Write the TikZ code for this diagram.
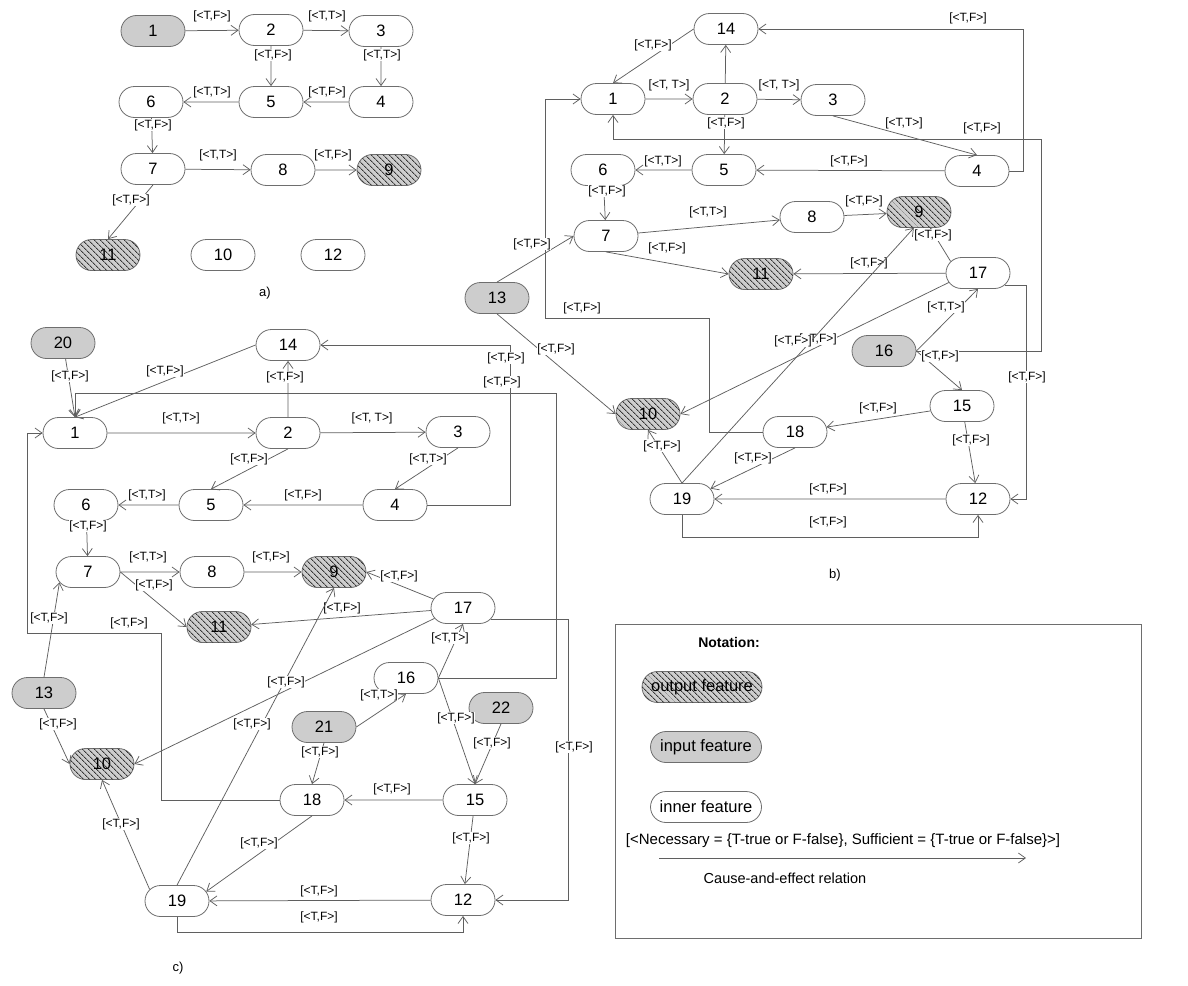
\documentclass[tikz,border=0pt]{standalone}
\usepackage{fontspec}
\setmainfont{Liberation Sans}
\usetikzlibrary{arrows.meta,shapes.misc,patterns.meta}
\definecolor{edge}{RGB}{95,95,95}
\definecolor{rim}{RGB}{110,110,110}
\definecolor{infill}{RGB}{205,205,205}
\definecolor{outfill}{RGB}{205,205,205}
\definecolor{hatch}{RGB}{55,55,55}

\begin{document}
\begin{tikzpicture}[x=1pt,y=-1pt, every node/.style={font=\fontsize{12}{12}\selectfont},
  feat/.style={rounded rectangle,draw=rim,line width=0.8pt,fill=white,minimum width=64pt,minimum height=31pt,inner sep=0pt,font=\fontsize{16.5}{16.5}\selectfont},
  featin/.style={feat,fill=infill},
  featout/.style={feat,fill=outfill,postaction={pattern={Lines[angle=-45,distance=4pt,line width=0.9pt]},pattern color=hatch}},
  lab/.style={fill=white,inner sep=0.6pt},
  cause/.style={-{Straight Barb[length=7pt,width=10pt]},draw=edge,line width=0.75pt}]
  \useasboundingbox (0,0) rectangle (1188,985);

  % a)
  \node[featin] (a1) at (153,31) {1};
  \node[feat] (a2) at (271,30) {2};
  \node[feat] (a3) at (381,31) {3};
  \node[feat] (a6) at (151,102) {6};
  \node[feat] (a5) at (271,102) {5};
  \node[feat] (a4) at (381,102) {4};
  \node[feat] (a7) at (153,169) {7};
  \node[feat] (a8) at (283,170) {8};
  \node[featout] (a9) at (389,170) {9};
  \node[featout] (a11) at (108,255) {11};
  \node[feat] (a10) at (223,255) {10};
  \node[feat] (a12) at (333,255) {12};
  \node[font=\fontsize{13}{13}\selectfont] (capa) at (265,293) {a)};
  \draw[cause] (a1) -- (a2) node[lab] at (212,16) {[<T,F>]};
  \draw[cause] (a2) -- (a3) node[lab] at (327,16) {[<T,T>]};
  \draw[cause] (a2) -- (a5) node[lab] at (273,55) {[<T,F>]};
  \draw[cause] (a3) -- (a4) node[lab] at (382,55) {[<T,T>]};
  \draw[cause] (a4) -- (a5) node[lab] at (327,92) {[<T,F>]};
  \draw[cause] (a5) -- (a6) node[lab] at (212,92) {[<T,T>]};
  \draw[cause] (a6) -- (a7) node[lab] at (153,125) {[<T,F>]};
  \draw[cause] (a7) -- (a8) node[lab] at (218,155) {[<T,T>]};
  \draw[cause] (a8) -- (a9) node[lab] at (333,155) {[<T,F>]};
  \draw[cause] (a7.south) -- (a11.north) node[lab] at (131,200) {[<T,F>]};

  % b)
  \node[feat] (b14) at (726,29) {14};
  \node[feat] (b1) at (613,99) {1};
  \node[feat] (b2) at (725,99) {2};
  \node[feat] (b3) at (833,100) {3};
  \node[feat] (b6) at (603,170) {6};
  \node[feat] (b5) at (724,170) {5};
  \node[feat] (b4) at (977,171) {4};
  \node[feat] (b7) at (606,236) {7};
  \node[feat] (b8) at (812,217) {8};
  \node[featout] (b9) at (919,212) {9};
  \node[featout] (b11) at (761,274) {11};
  \node[feat] (b17) at (978,273) {17};
  \node[featin] (b13) at (497,298) {13};
  \node[featin] (b16) at (884,351) {16};
  \node[featout] (b10) at (648,414) {10};
  \node[feat] (b15) at (962,406) {15};
  \node[feat] (b18) at (795,432) {18};
  \node[feat] (b19) at (682,499) {19};
  \node[feat] (b12) at (978,499) {12};
  \node[font=\fontsize{13}{13}\selectfont] (capb) at (835,575) {b)};
  \draw[cause] (b14.west) -- (b1.north) node[lab] at (653,45) {[<T,F>]};
  \draw[cause] (b2) -- (b14);
  \draw[cause] (b1) -- (b2) node[lab] at (669,85) {[<T, T>]};
  \draw[cause] (b2) -- (b3) node[lab] at (779,85) {[<T, T>]};
  \draw[cause] (b3.south) -- (b4.north) node[lab] at (904,123) {[<T,T>]};
  \draw[cause] (b4) -- (b5) node[lab] at (849,161) {[<T,F>]};
  \draw[cause] (b5) -- (b6) node[lab] at (663,161) {[<T,T>]};
  \draw[cause] (b6) -- (b7) node[lab] at (607,191) {[<T,F>]};
  \draw[cause] (b4.east) -- ++(14,0) |- (b14.east) node[lab] at (968,18) {[<T,F>]};
  \draw[cause] (b16.east) -| (1041,139) -| (b1.south) node[lab] at (982,128) {[<T,F>]};
  \draw[cause] (b2) -- (b5) node[lab] at (726,123) {[<T,F>]};
  \draw[cause] (b18.west) -| (709,318) -| (545,99) -- (b1.west) node[lab] at (582,308) {[<T,F>]};
  \draw[cause] (b13.north) -- (b7.west) node[lab] at (532,244) {[<T,F>]};
  \draw[cause] (b13.south) -- (b10.west) node[lab] at (556,349) {[<T,F>]};
  \draw[cause] (b7) -- (b8) node[lab] at (708,212) {[<T,T>]};
  \draw[cause] (b7.south) -- (b11.west) node[lab] at (667,248) {[<T,F>]};
  \draw[cause] (b8) -- (b9) node[lab] at (864,201) {[<T,F>]};
  \draw[cause] (b17.157) -- (b9.-55) node[lab] at (933,235) {[<T,F>]};
  \draw[cause] (b17) -- (b11) node[lab] at (869,263) {[<T,F>]};
  \draw[cause] (b17.198) -- (b10.east) node[lab] at (818,339) {[<T,F>]};
  \draw[cause] (b19.north) -- (b9.-108) node[lab] at (793,341) {[<T,F>]};
  \draw[cause] (b19.north) -- (b10.south) node[lab] at (662,446) {[<T,F>]};
  \draw[cause] (b16.east) -- (b17.south) node[lab] at (946,307) {[<T,T>]};
  \draw[cause] (b16.east) -- (b15.north) node[lab] at (940,356) {[<T,F>]};
  \draw[cause] (b17.-25) -- ++(22,0) |- (b12.east) node[lab] at (1027,377) {[<T,F>]};
  \draw[cause] (b15) -- (b18) node[lab] at (878,408) {[<T,F>]};
  \draw[cause] (b15) -- (b12) node[lab] at (971,440) {[<T,F>]};
  \draw[cause] (b18.south) -- (b19.20) node[lab] at (753,458) {[<T,F>]};
  \draw[cause] (b12) -- (b19) node[lab] at (828,489) {[<T,F>]};
  \draw[cause] (b19.south) -- ++(0,22) -| (b12.south) node[lab] at (828,522) {[<T,F>]};

  % c)
  \node[featin] (c20) at (63,343) {20};
  \node[feat] (c14) at (288,345) {14};
  \node[feat] (c1) at (75,433) {1};
  \node[feat] (c2) at (288,433) {2};
  \node[feat] (c3) at (458,432) {3};
  \node[feat] (c6) at (86,505) {6};
  \node[feat] (c5) at (211,505) {5};
  \node[feat] (c4) at (395,505) {4};
  \node[feat] (c7) at (88,572) {7};
  \node[feat] (c8) at (212,572) {8};
  \node[featout] (c9) at (334,572) {9};
  \node[featout] (c11) at (219,627) {11};
  \node[feat] (c17) at (463,608) {17};
  \node[feat] (c16) at (406,678) {16};
  \node[featin] (c13) at (44,693) {13};
  \node[featin] (c22) at (501,708) {22};
  \node[featin] (c21) at (324,727) {21};
  \node[featout] (c10) at (102,764) {10};
  \node[feat] (c18) at (312,800) {18};
  \node[feat] (c15) at (475,800) {15};
  \node[feat] (c19) at (177,901) {19};
  \node[feat] (c12) at (463,900) {12};
  \node[font=\fontsize{13}{13}\selectfont] (capc) at (178,968) {c)};
  \draw[cause] (c20) -- (c1.north) node[lab] at (70,376) {[<T,F>]};
  \draw[cause] (c14.west) -- (c1.north) node[lab] at (165,371) {[<T,F>]};
  \draw[cause] (c2) -- (c14) node[lab] at (285,377) {[<T,F>]};
  \draw[cause] (c1) -- (c2) node[lab] at (181,418) {[<T,T>]};
  \draw[cause] (c2) -- (c3) node[lab] at (372,418) {[<T, T>]};
  \draw[cause] (c2.south) -- (c5.north) node[lab] at (249,459) {[<T,F>]};
  \draw[cause] (c3.south) -- (c4.north) node[lab] at (428,459) {[<T,T>]};
  \draw[cause] (c4) -- (c5) node[lab] at (303,495) {[<T,F>]};
  \draw[cause] (c5) -- (c6) node[lab] at (147,495) {[<T,T>]};
  \draw[cause] (c4.east) -- ++(83,0) |- (c14.east) node[lab] at (506,358) {[<T,F>]};
  \draw[cause] (c16.east) -| (556,393) -| (c1.north) node[lab] at (502,382) {[<T,F>]};
  \draw[cause] (c18.west) -| (161,633) -| (27,433) -- (c1.west) node[lab] at (129,623) {[<T,F>]};
  \draw[cause] (c6) -- (c7) node[lab] at (88,526) {[<T,F>]};
  \draw[cause] (c7) -- (c8) node[lab] at (148,557) {[<T,T>]};
  \draw[cause] (c7.east) -- (c11.west) node[lab] at (154,585) {[<T,F>]};
  \draw[cause] (c8) -- (c9) node[lab] at (271,557) {[<T,F>]};
  \draw[cause] (c17.163) -- (c9.east) node[lab] at (399,576) {[<T,F>]};
  \draw[cause] (c17) -- (c11) node[lab] at (342,608) {[<T,F>]};
  \draw[cause] (c19.north) -- (c9.south) node[lab] at (252,724) {[<T,F>]};
  \draw[cause] (c17.200) -- (c10.east) node[lab] at (286,682) {[<T,F>]};
  \draw[cause] (c19.157) -- (c10.south) node[lab] at (121,824) {[<T,F>]};
  \draw[cause] (c13.north) -- (c7.200) node[lab] at (49,618) {[<T,F>]};
  \draw[cause] (c13.south) -- (c10.west) node[lab] at (58,724) {[<T,F>]};
  \draw[cause] (c21.east) -- (c16.south) node[lab] at (379,695) {[<T,T>]};
  \draw[cause] (c16.east) -- (c17.south) node[lab] at (450,638) {[<T,T>]};
  \draw[cause] (c16.east) -- (c15.north) node[lab] at (456,718) {[<T,F>]};
  \draw[cause] (c22.south) -- (c15.north) node[lab] at (492,743) {[<T,F>]};
  \draw[cause] (c17.-22) -- ++(78,0) |- (c12.east) node[lab] at (574,747) {[<T,F>]};
  \draw[cause] (c21.south) -- (c18.north) node[lab] at (320,752) {[<T,F>]};
  \draw[cause] (c15) -- (c18) node[lab] at (392,789) {[<T,F>]};
  \draw[cause] (c15) -- (c12) node[lab] at (471,838) {[<T,F>]};
  \draw[cause] (c18.south) -- (c19.18) node[lab] at (259,843) {[<T,F>]};
  \draw[cause] (c12) -- (c19) node[lab] at (319,891) {[<T,F>]};
  \draw[cause] (c19.south) -- ++(0,15) -| (c12.south) node[lab] at (319,917) {[<T,F>]};

  % notation
  \draw[draw=rim,line width=0.8pt] (615,624) rectangle (1141,938);
  \node[font=\bfseries\fontsize{14}{14}\selectfont] (ntitle) at (729,642) {Notation:};
  \node[featout,minimum width=120pt,font=\fontsize{16.5}{16.5}\selectfont] (kout) at (702,687) {output feature};
  \node[featin,minimum width=111pt,font=\fontsize{16.5}{16.5}\selectfont] (kin) at (706,747) {input feature};
  \node[feat,minimum width=111pt,font=\fontsize{16.5}{16.5}\selectfont] (kinner) at (706,807) {inner feature};
  \node[font=\fontsize{15}{15}\selectfont] (kdesc) at (843,841) {[<Necessary = \{T-true or F-false\}, Sufficient = \{T-true or F-false\}>]};
  \coordinate (kfrom) at (659,858);
  \coordinate (kto) at (1026,858);
  \draw[cause] (kfrom) -- (kto);
  \node[font=\fontsize{14.5}{14.5}\selectfont] (kcap) at (785,878) {Cause-and-effect relation};
\end{tikzpicture}
\end{document}
